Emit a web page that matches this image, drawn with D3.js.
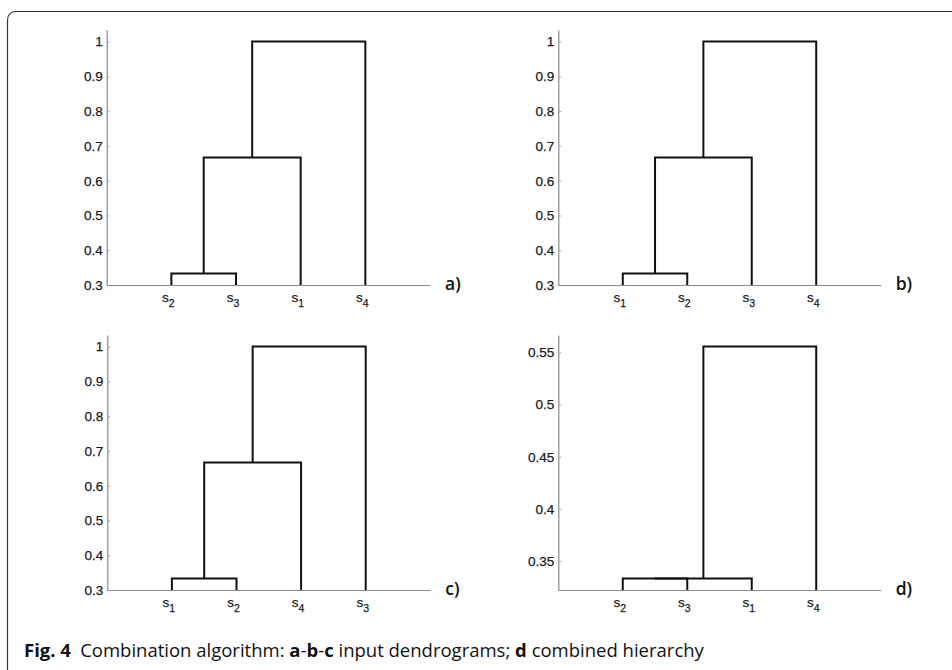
<!DOCTYPE html>
<html>
<head>
<meta charset="utf-8">
<script src="https://cdn.jsdelivr.net/npm/d3@7"></script>
<style>
  body { margin: 0; background: #fff; }
  svg { display: block; }
</style>
</head>
<body>
<svg id="fig" width="952" height="670"></svg>
<script>
// panel data
const panelLabels = ["a)", "b)", "c)", "d)"];
const leafOrders = [
    ["2", "3", "1", "4"],
    ["1", "2", "3", "4"],
    ["1", "2", "4", "3"],
    ["2", "3", "1", "4"]
];
// linkage rows: [left node, right node, merge height]; nodes 0..3 are leaves, 4.. are merges
const links = [
    [[0, 1, 0.3333], [4, 2, 0.6667], [5, 3, 1]],
    [[0, 1, 0.3333], [4, 2, 0.6667], [5, 3, 1]],
    [[0, 1, 0.3333], [4, 2, 0.6667], [5, 3, 1]],
    [[0, 1, 0.3333], [4, 2, 0.3333], [5, 3, 0.5556]]
];
const yDomains = [[0.3, 1.0333], [0.3, 1.0333], [0.3, 1.0333], [0.3222, 0.5667]];
const yTicks = [
    [0.3, 0.4, 0.5, 0.6, 0.7, 0.8, 0.9, 1],
    [0.3, 0.4, 0.5, 0.6, 0.7, 0.8, 0.9, 1],
    [0.3, 0.4, 0.5, 0.6, 0.7, 0.8, 0.9, 1],
    [0.35, 0.4, 0.45, 0.5, 0.55]
];

// layout of each panel's axes box
const boxes = [
    { x0: 106.7, x1: 430, top: 30, bottom: 285 },
    { x0: 558.3, x1: 880.7, top: 30, bottom: 285 },
    { x0: 107.3, x1: 430.3, top: 335, bottom: 590 },
    { x0: 558.3, x1: 880.7, top: 335, bottom: 590 }
];

const svg = d3.select("#fig");
const axisFamily = "'Liberation Sans', Arial, sans-serif";

// rounded frame (runs off the right and bottom edges)
const r = 9;
svg.append("path")
    .attr("d", `M7.5,680 V${11.5 + r} Q7.5,11.5 ${7.5 + r},11.5 H960`)
    .attr("fill", "none")
    .attr("stroke", "#333")
    .attr("stroke-width", 1.2);

panelLabels.forEach((lab, p) => {
    const b = boxes[p];
    const x = d3.scaleLinear().domain([0, 5]).range([b.x0, b.x1]);
    const y = d3.scaleLinear().domain(yDomains[p]).range([b.bottom, b.top]);
    const g = svg.append("g");

    const yAxis = g.append("g")
        .attr("transform", `translate(${b.x0},0)`)
        .call(d3.axisLeft(y)
            .tickValues(yTicks[p])
            .tickFormat(d3.format("~g"))
            .tickSize(-3)
            .tickSizeOuter(0)
            .tickPadding(4));
    yAxis.attr("font-size", 13.5).attr("font-family", axisFamily);
    yAxis.select(".domain").attr("stroke", "#8a8a8a").attr("stroke-width", 1.2);
    yAxis.selectAll(".tick line").attr("stroke", "#aaa");
    yAxis.selectAll(".tick text")
        .attr("fill", "#1a1a1a")
        .attr("stroke", "#1a1a1a")
        .attr("stroke-width", 0.25);

    const xAxis = g.append("g")
        .attr("transform", `translate(0,${b.bottom})`)
        .call(d3.axisBottom(x).tickValues([]).tickSizeOuter(0));
    xAxis.select(".domain").attr("stroke", "#8a8a8a").attr("stroke-width", 1.2);

    // node positions
    const nodeX = leafOrders[p].map((d, i) => x(i + 1));
    const nodeH = leafOrders[p].map(() => yDomains[p][0]);
    links[p].forEach(([l, rr, h]) => {
        nodeX.push((nodeX[l] + nodeX[rr]) / 2);
        nodeH.push(h);
    });

    g.selectAll("path.link")
        .data(links[p])
        .join("path")
        .attr("class", "link")
        .attr("fill", "none")
        .attr("stroke", "#111")
        .attr("stroke-width", 2)
        .attr("d", ([l, rr, h]) => {
            const path = d3.path();
            path.moveTo(nodeX[l], y(nodeH[l]));
            path.lineTo(nodeX[l], y(h));
            path.lineTo(nodeX[rr], y(h));
            path.lineTo(nodeX[rr], y(nodeH[rr]));
            return path.toString();
        });

    // leaf labels s with subscript
    const leaf = g.selectAll("text.leaf")
        .data(leafOrders[p])
        .join("text")
        .attr("class", "leaf")
        .attr("x", (d, i) => x(i + 1) - 3)
        .attr("y", b.bottom + 17)
        .attr("text-anchor", "middle")
        .attr("fill", "#1a1a1a")
        .attr("stroke", "#1a1a1a")
        .attr("stroke-width", 0.25)
        .attr("font-size", 13.5)
        .attr("font-family", axisFamily);
    leaf.append("tspan").text("s");
    leaf.append("tspan")
        .attr("dy", 5)
        .attr("font-size", 10.5)
        .text(d => d);

    g.append("text")
        .attr("x", b.x1 + 15)
        .attr("y", b.bottom + 5)
        .attr("fill", "#111")
        .style("font", "600 17.5px 'Open Sans', sans-serif")
        .text(lab);
});

// caption
const cap = svg.append("text")
    .attr("x", 24)
    .attr("y", 657)
    .attr("fill", "#111")
    .style("font", "18.5px 'Open Sans', sans-serif");
const parts = [
    ["Fig. 4", true], ["\u2002Combination algorithm: ", false], ["a", true], ["-", false],
    ["b", true], ["-", false], ["c", true], [" input dendrograms; ", false],
    ["d", true], [" combined hierarchy", false]
];
parts.forEach(([t, bold]) => {
    cap.append("tspan")
        .style("font-weight", bold ? 700 : 400)
        .text(t);
});
</script>
</body>
</html>
